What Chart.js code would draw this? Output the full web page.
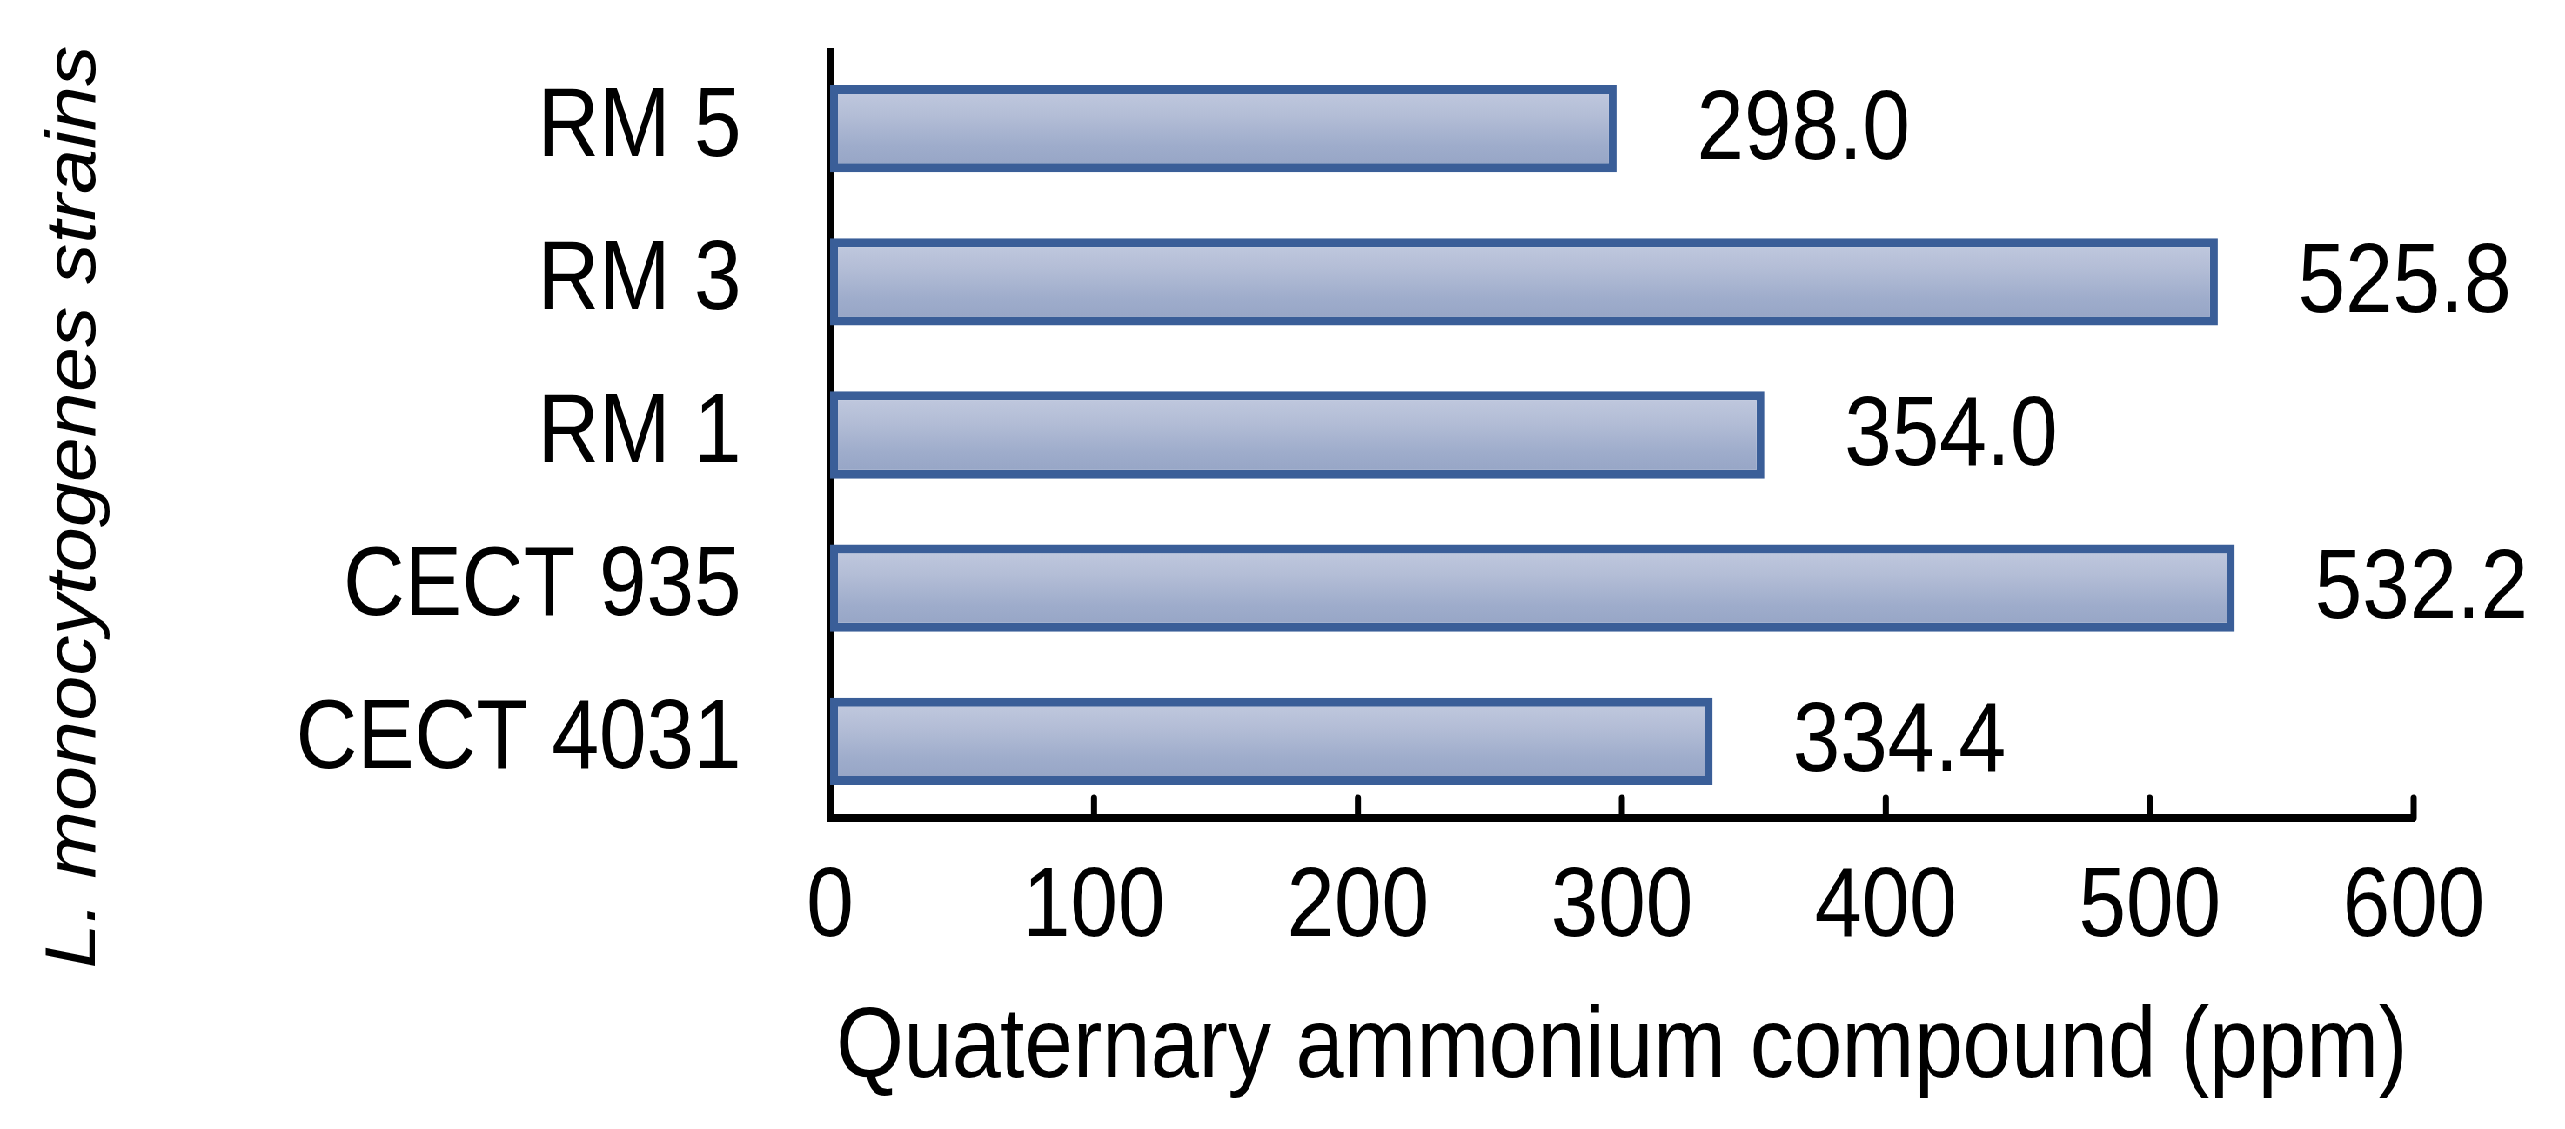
<!DOCTYPE html>
<html>
<head>
<meta charset="utf-8">
<script src="https://cdn.jsdelivr.net/npm/chart.js@4/dist/chart.umd.min.js"></script>
<style>
  html, body { margin: 0; padding: 0; background: #ffffff; overflow: hidden; }
  #outer { position: relative; width: 2565px; height: 1129px; overflow: hidden; background: #ffffff; }
  /* the reference figure uses horizontally condensed lettering; the whole drawing is condensed the same way */
  #wrap { position: absolute; left: 0; top: 0; width: 2948px; height: 1129px;
          transform: scaleX(0.8701); transform-origin: 0 0; background: #ffffff; }
</style>
</head>
<body>
<div id="outer"><div id="wrap"><canvas id="c"></canvas></div></div>
<script>
// ---- data ----
const strains = ['RM 5', 'RM 3', 'RM 1', 'CECT 935', 'CECT 4031'];
const qacValues = [298.0, 525.8, 354.0, 532.2, 334.4];
const xTickValues = [0, 100, 200, 300, 400, 500, 600];
const xAxisTitle = 'Quaternary ammonium compound (ppm)';
const yAxisTitle = 'L. monocytogenes strains';

const FONT = "'Liberation Sans', Arial, sans-serif";
const BAR_PCT = 0.57;

const valueLabels = {
  id: 'valueLabels',
  afterDatasetsDraw(chart) {
    const ctx = chart.ctx;
    const meta = chart.getDatasetMeta(0);
    ctx.save();
    ctx.font = '98px ' + FONT;
    ctx.fillStyle = '#000000';
    ctx.textAlign = 'left';
    ctx.textBaseline = 'middle';
    meta.data.forEach((bar, i) => {
      ctx.fillText(qacValues[i].toFixed(1), bar.x + 92, bar.y + 3);
    });
    ctx.restore();
  }
};

const innerTicks = {
  id: 'innerTicks',
  afterDraw(chart) {
    const ctx = chart.ctx;
    const xs = chart.scales.x;
    const yb = chart.chartArea.bottom;
    ctx.save();
    ctx.strokeStyle = '#000000';
    ctx.lineWidth = 7;
    ctx.lineCap = 'round';
    xs.ticks.forEach((t) => {
      if (t.value === 0) return;
      const px = xs.getPixelForValue(t.value);
      ctx.beginPath();
      ctx.moveTo(px, yb);
      ctx.lineTo(px, yb - 20);
      ctx.stroke();
    });
    ctx.restore();
  }
};

const yTitle = {
  id: 'yTitle',
  afterDraw(chart) {
    const ctx = chart.ctx;
    ctx.save();
    ctx.translate(86, 507);
    ctx.rotate(-Math.PI / 2);
    ctx.font = 'italic 81px ' + FONT;
    ctx.fillStyle = '#000000';
    ctx.textAlign = 'center';
    ctx.textBaseline = 'middle';
    ctx.fillText(yAxisTitle, 0, 0);
    ctx.restore();
  }
};

function barFill(c) {
  const chart = c.chart;
  const ys = chart.scales.y;
  if (!chart.chartArea || !ys || c.dataIndex === undefined) return '#a9b5d2';
  const center = ys.getPixelForValue(c.dataIndex);
  const step = Math.abs(ys.getPixelForValue(1) - ys.getPixelForValue(0));
  const half = step * BAR_PCT / 2;
  if (!isFinite(center) || !isFinite(half) || half <= 0) return '#a9b5d2';
  const g = chart.ctx.createLinearGradient(0, center - half, 0, center + half);
  g.addColorStop(0, '#c3cbe0');
  g.addColorStop(0.35, '#b3bdd6');
  g.addColorStop(0.7, '#9eaccb');
  g.addColorStop(1, '#94a3c4');
  return g;
}

new Chart(document.getElementById('c'), {
  type: 'bar',
  data: {
    labels: strains,
    datasets: [{
      data: qacValues,
      backgroundColor: barFill,
      borderColor: '#3a5e98',
      borderWidth: 9,
      borderSkipped: false,
      barPercentage: BAR_PCT,
      categoryPercentage: 1.0
    }]
  },
  options: {
    indexAxis: 'y',
    responsive: true,
    maintainAspectRatio: false,
    animation: false,
    layout: { padding: { top: 52, right: 174, bottom: 0, left: 0 } },
    plugins: {
      legend: { display: false },
      tooltip: { enabled: false }
    },
    scales: {
      x: {
        type: 'linear',
        min: 0,
        max: 600,
        z: 1,
        afterBuildTicks: (s) => { s.ticks = xTickValues.map(v => ({ value: v })); },
        afterFit: (s) => { s.height = 311; s.paddingLeft = 0; s.paddingRight = 0; },
        grid: { display: false, drawTicks: false },
        border: { display: true, color: '#000000', width: 8 },
        ticks: {
          padding: 32,
          color: '#000000',
          font: { family: FONT, size: 98 },
          maxRotation: 0,
          autoSkip: false
        },
        title: {
          display: true,
          text: xAxisTitle,
          color: '#000000',
          font: { family: FONT, size: 100 },
          padding: { top: 0, bottom: 20 }
        }
      },
      y: {
        z: 1,
        afterFit: (s) => { s.width = 954; s.paddingTop = 0; s.paddingBottom = 0; },
        grid: { display: false, drawTicks: false },
        border: { display: true, color: '#000000', width: 9 },
        ticks: {
          padding: 102,
          color: '#000000',
          font: { family: FONT, size: 98 }
        }
      }
    }
  },
  plugins: [valueLabels, innerTicks, yTitle]
});
</script>
</body>
</html>
